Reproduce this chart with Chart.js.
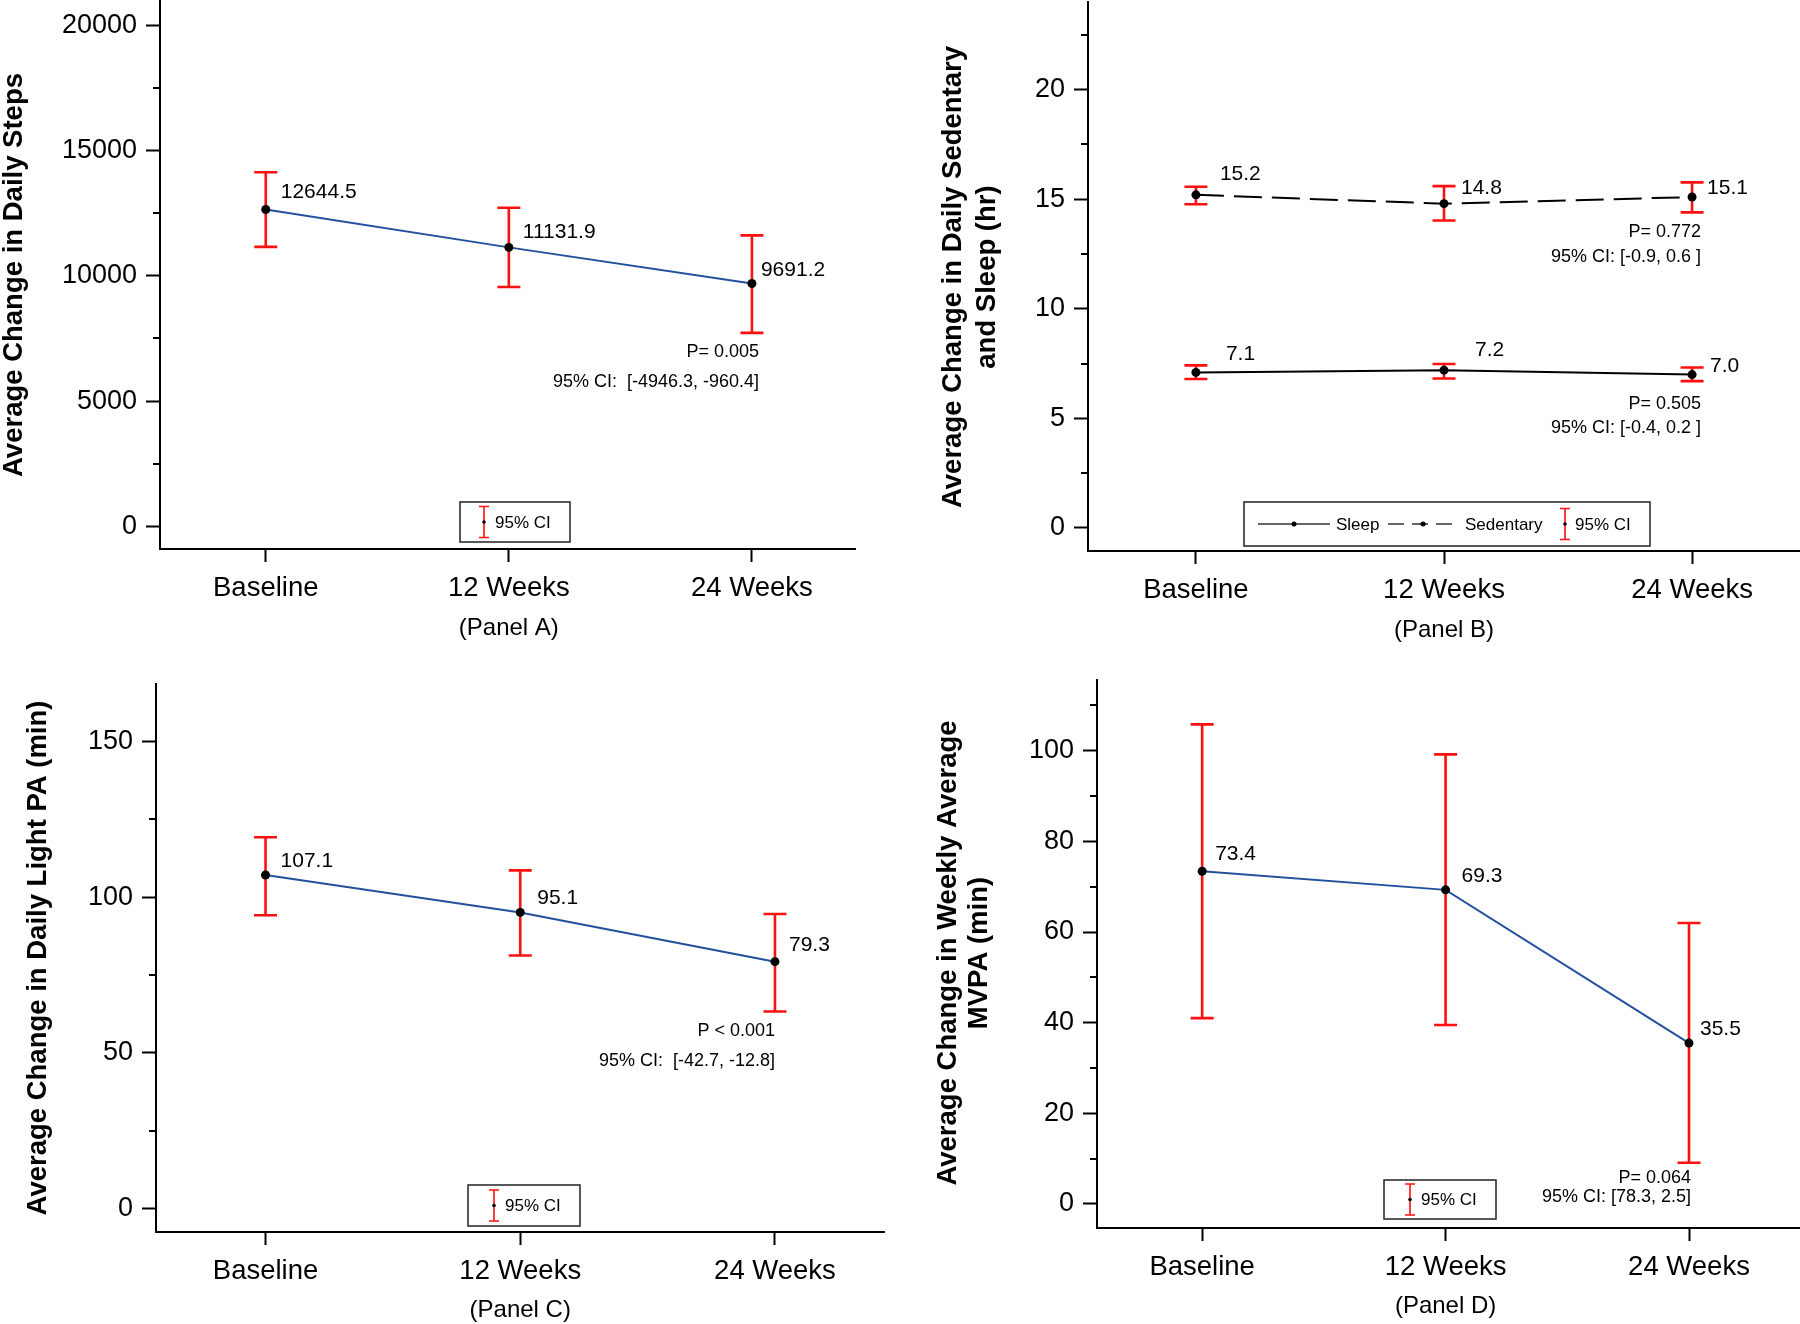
<!DOCTYPE html>
<html>
<head>
<meta charset="utf-8">
<script src="https://cdn.jsdelivr.net/npm/chart.js@4.4.1/dist/chart.umd.min.js"></script>
<style>
  html, body { margin: 0; padding: 0; background: #fff; }
  body { width: 1800px; height: 1324px; position: relative; overflow: hidden; }
  canvas { position: absolute; }
</style>
</head>
<body>
<canvas id="panelA" width="900" height="660" style="left:0;top:0"></canvas>
<canvas id="panelB" width="900" height="660" style="left:900px;top:0"></canvas>
<canvas id="panelC" width="900" height="664" style="left:0;top:660px"></canvas>
<canvas id="panelD" width="900" height="664" style="left:900px;top:660px"></canvas>
<script>
const timepoints = ['Baseline', '12 Weeks', '24 Weeks'];

// Panel A - daily steps
const stepsMean = [12644.5, 11131.9, 9691.2];
const stepsLow = [11150, 9550, 7720];
const stepsHigh = [14130, 12710, 11610];
const stepsTicks = [0, 5000, 10000, 15000, 20000];
const stepsMinor = [2500, 7500, 12500, 17500];

// Panel B - sedentary and sleep (hr)
const sleepMean = [7.1, 7.2, 7.0];
const sleepLow = [6.8, 6.82, 6.7];
const sleepHigh = [7.42, 7.48, 7.32];
const sedMean = [15.2, 14.8, 15.1];
const sedLow = [14.77, 14.03, 14.4];
const sedHigh = [15.57, 15.6, 15.77];
const hrTicks = [0, 5, 10, 15, 20];
const hrMinor = [2.5, 7.5, 12.5, 17.5, 22.5];

// Panel C - light PA (min)
const lightMean = [107.1, 95.1, 79.3];
const lightLow = [94.2, 81.3, 63.3];
const lightHigh = [119.2, 108.6, 94.6];
const lightTicks = [0, 50, 100, 150];
const lightMinor = [25, 75, 125];

// Panel D - weekly MVPA (min)
const mvpaMean = [73.4, 69.3, 35.5];
const mvpaLow = [41.0, 39.5, 9.1];
const mvpaHigh = [105.8, 99.2, 62.0];
const mvpaTicks = [0, 20, 40, 60, 80, 100];
const mvpaMinor = [10, 30, 50, 70, 90, 110];

const FONT = "'Liberation Sans', Arial, sans-serif";
Chart.defaults.font.family = FONT;
Chart.defaults.color = '#000';

const RED = '#ff1010';
const BLUE = '#23509c';

// draw a small red CI icon like the legend one
function ciIcon(ctx, x, top, bot) {
  ctx.save();
  ctx.strokeStyle = RED;
  ctx.lineWidth = 1.6;
  ctx.beginPath();
  ctx.moveTo(x, top); ctx.lineTo(x, bot);
  ctx.moveTo(x - 5, top); ctx.lineTo(x + 5, top);
  ctx.moveTo(x - 5, bot); ctx.lineTo(x + 5, bot);
  ctx.stroke();
  ctx.fillStyle = '#000';
  ctx.beginPath(); ctx.arc(x, (top + bot) / 2, 1.8, 0, Math.PI * 2); ctx.fill();
  ctx.restore();
}

function decor(spec) {
  return {
    id: 'decor',
    beforeDatasetsDraw(chart) {
      const {ctx, scales: {x, y}} = chart;
      ctx.save();
      ctx.strokeStyle = RED;
      ctx.lineWidth = 2.6;
      spec.series.forEach(s => {
        s.low.forEach((lo, i) => {
          const px = x.getPixelForValue(i);
          const top = y.getPixelForValue(s.high[i]);
          const bot = y.getPixelForValue(lo);
          ctx.beginPath();
          ctx.moveTo(px, top); ctx.lineTo(px, bot);
          ctx.moveTo(px - 11.5, top); ctx.lineTo(px + 11.5, top);
          ctx.moveTo(px - 11.5, bot); ctx.lineTo(px + 11.5, bot);
          ctx.stroke();
        });
      });
      ctx.restore();
    },
    afterDatasetsDraw(chart) {
      const {ctx, chartArea, scales: {x, y}} = chart;
      ctx.save();
      // minor ticks on y axis
      ctx.strokeStyle = '#000';
      ctx.lineWidth = 2;
      spec.minor.forEach(v => {
        const py = Math.round(y.getPixelForValue(v));
        ctx.beginPath();
        ctx.moveTo(chartArea.left - 7, py); ctx.lineTo(chartArea.left, py);
        ctx.stroke();
      });

      // value labels
      ctx.fillStyle = '#000';
      ctx.font = '21px ' + FONT;
      ctx.textAlign = 'left';
      ctx.textBaseline = 'middle';
      spec.series.forEach(s => {
        s.mean.forEach((v, i) => {
          const px = x.getPixelForValue(i) + s.offsets[i][0];
          const py = y.getPixelForValue(v) + s.offsets[i][1];
          ctx.fillText(v.toFixed(1), px, py);
        });
      });

      // p-values
      ctx.font = '18px ' + FONT;
      ctx.textAlign = 'right';
      spec.notes.forEach(n => ctx.fillText(n.text, n.x, n.y));

      // legend box
      const lg = spec.legend;
      ctx.strokeStyle = '#222';
      ctx.lineWidth = 1.5;
      ctx.strokeRect(lg.x, lg.y, lg.w, lg.h);
      const cy = lg.y + lg.h / 2;
      ctx.font = '17px ' + FONT;
      ctx.textAlign = 'left';
      lg.items.forEach(it => {
        if (it.kind === 'ci') {
          ciIcon(ctx, it.x, cy - 15.5, cy + 15.5);
          ctx.fillStyle = '#000';
          ctx.fillText('95% CI', it.tx, cy + 1);
        } else {
          ctx.strokeStyle = '#333';
          ctx.lineWidth = 1.5;
          ctx.setLineDash(it.kind === 'dash' ? [16, 8] : []);
          ctx.beginPath();
          ctx.moveTo(it.x0, cy); ctx.lineTo(it.x1, cy);
          ctx.stroke();
          ctx.setLineDash([]);
          ctx.fillStyle = '#000';
          ctx.beginPath(); ctx.arc((it.x0 + it.x1) / 2, cy, 2.5, 0, Math.PI * 2); ctx.fill();
          ctx.fillText(it.label, it.tx, cy + 1);
        }
      });

      // y axis title
      ctx.font = 'bold 27.5px ' + FONT;
      ctx.textAlign = 'center';
      ctx.fillStyle = '#000';
      spec.title.lines.forEach((t, i) => {
        ctx.save();
        ctx.translate(spec.title.xs[i], spec.title.y);
        ctx.rotate(-Math.PI / 2);
        ctx.fillText(t, 0, 0);
        ctx.restore();
      });

      // panel label
      ctx.font = '24px ' + FONT;
      ctx.fillText(spec.panel, x.getPixelForValue(1), spec.panelY);
      ctx.restore();
    }
  };
}

function makePanel(id, spec) {
  const axisGrid = { drawOnChartArea: false, drawTicks: true, tickWidth: 2, tickColor: '#000' };
  const axisBorder = { display: true, color: '#000', width: 2 };
  return new Chart(document.getElementById(id), {
    type: 'line',
    data: {
      datasets: spec.series.map(s => ({
        label: s.label,
        data: s.mean.map((v, i) => ({ x: i, y: v })),
        borderColor: s.color,
        borderWidth: 2,
        borderDash: s.dash || [],
        pointRadius: 4.5,
        pointBackgroundColor: '#000',
        pointBorderWidth: 0,
        tension: 0,
        clip: false
      }))
    },
    options: {
      responsive: false,
      animation: false,
      layout: { padding: spec.pad, autoPadding: false },
      plugins: { legend: { display: false }, tooltip: { enabled: false } },
      scales: {
        x: {
          type: 'linear',
          min: spec.xMin,
          max: spec.xMax,
          afterBuildTicks: s => { s.ticks = timepoints.map((_, i) => ({ value: i })); },
          afterFit: s => { s.height = spec.xH; s.paddingLeft = 0; s.paddingRight = 0; },
          ticks: {
            callback: v => timepoints[v],
            font: { size: 27.5 },
            color: '#000',
            padding: 10,
            maxRotation: 0,
            autoSkip: false
          },
          grid: Object.assign({ tickLength: 13 }, axisGrid),
          border: axisBorder
        },
        y: {
          min: spec.yMin,
          max: spec.yMax,
          afterBuildTicks: s => { s.ticks = spec.ticks.map(v => ({ value: v })); },
          afterFit: s => { s.width = spec.yW; s.paddingTop = 0; s.paddingBottom = 0; },
          ticks: {
            callback: v => String(v),
            font: { size: 27 },
            color: '#000',
            padding: 9
          },
          grid: Object.assign({ tickLength: 14 }, axisGrid),
          border: axisBorder
        }
      }
    },
    plugins: [decor(spec)]
  });
}

makePanel('panelA', {
  series: [{ label: 'Steps', mean: stepsMean, low: stepsLow, high: stepsHigh, color: BLUE,
             offsets: [[15, -17], [14, -15], [9, -13]] }],
  ticks: stepsTicks, minor: stepsMinor,
  yMin: -900, yMax: 21000, xMin: -0.435, xMax: 2.424,
  pad: { left: 0, top: 0, right: 45, bottom: 0 }, yW: 160, xH: 111,
  notes: [
    { text: 'P= 0.005', x: 759, y: 352 },
    { text: '95% CI:  [-4946.3, -960.4]', x: 759, y: 382 }
  ],
  legend: { x: 460, y: 502, w: 110, h: 40, items: [{ kind: 'ci', x: 484, tx: 495 }] },
  title: { lines: ['Average Change in Daily Steps'], xs: [14], y: 275 },
  panel: '(Panel A)', panelY: 628
});

makePanel('panelB', {
  series: [
    { label: 'Sleep', mean: sleepMean, low: sleepLow, high: sleepHigh, color: '#000',
      offsets: [[30, -18], [31, -20], [18, -8]] },
    { label: 'Sedentary', mean: sedMean, low: sedLow, high: sedHigh, color: '#000', dash: [28, 10],
      offsets: [[24, -21], [17, -15], [15, -9]] }
  ],
  ticks: hrTicks, minor: hrMinor,
  yMin: -1.05, yMax: 24, xMin: -0.435, xMax: 2.435,
  pad: { left: 0, top: 2, right: 0, bottom: 0 }, yW: 188, xH: 109,
  notes: [
    { text: 'P= 0.772', x: 801, y: 232 },
    { text: '95% CI: [-0.9, 0.6 ]', x: 801, y: 257 },
    { text: 'P= 0.505', x: 801, y: 404 },
    { text: '95% CI: [-0.4, 0.2 ]', x: 801, y: 428 }
  ],
  legend: { x: 344, y: 502, w: 406, h: 44, items: [
    { kind: 'line', x0: 358, x1: 430, tx: 436, label: 'Sleep' },
    { kind: 'dash', x0: 488, x1: 558, tx: 565, label: 'Sedentary' },
    { kind: 'ci', x: 665, tx: 675 }
  ] },
  title: { lines: ['Average Change in Daily Sedentary', 'and Sleep (hr)'], xs: [53, 87], y: 277 },
  panel: '(Panel B)', panelY: 630
});

makePanel('panelC', {
  series: [{ label: 'Light PA', mean: lightMean, low: lightLow, high: lightHigh, color: BLUE,
             offsets: [[15, -14], [17, -14], [14, -16]] }],
  ticks: lightTicks, minor: lightMinor,
  yMin: -7.45, yMax: 168.4, xMin: -0.43, xMax: 2.428,
  pad: { left: 0, top: 24, right: 16, bottom: 0 }, yW: 156, xH: 92,
  notes: [
    { text: 'P < 0.001', x: 775, y: 371 },
    { text: '95% CI:  [-42.7, -12.8]', x: 775, y: 401 }
  ],
  legend: { x: 468, y: 525, w: 112, h: 41, items: [{ kind: 'ci', x: 494, tx: 505 }] },
  title: { lines: ['Average Change in Daily Light PA (min)'], xs: [38], y: 298 },
  panel: '(Panel C)', panelY: 650
});

makePanel('panelD', {
  series: [{ label: 'MVPA', mean: mvpaMean, low: mvpaLow, high: mvpaHigh, color: BLUE,
             offsets: [[13, -17], [16, -14], [11, -14]] }],
  ticks: mvpaTicks, minor: mvpaMinor,
  yMin: -5.3, yMax: 115.6, xMin: -0.432, xMax: 2.456,
  pad: { left: 0, top: 20, right: 0, bottom: 0 }, yW: 197, xH: 96,
  notes: [
    { text: 'P= 0.064', x: 791, y: 518 },
    { text: '95% CI: [78.3, 2.5]', x: 791, y: 537 }
  ],
  legend: { x: 484, y: 520, w: 112, h: 39, items: [{ kind: 'ci', x: 510, tx: 521 }] },
  title: { lines: ['Average Change in Weekly Average', 'MVPA (min)'], xs: [48, 79], y: 293 },
  panel: '(Panel D)', panelY: 646
});
</script>
</body>
</html>
